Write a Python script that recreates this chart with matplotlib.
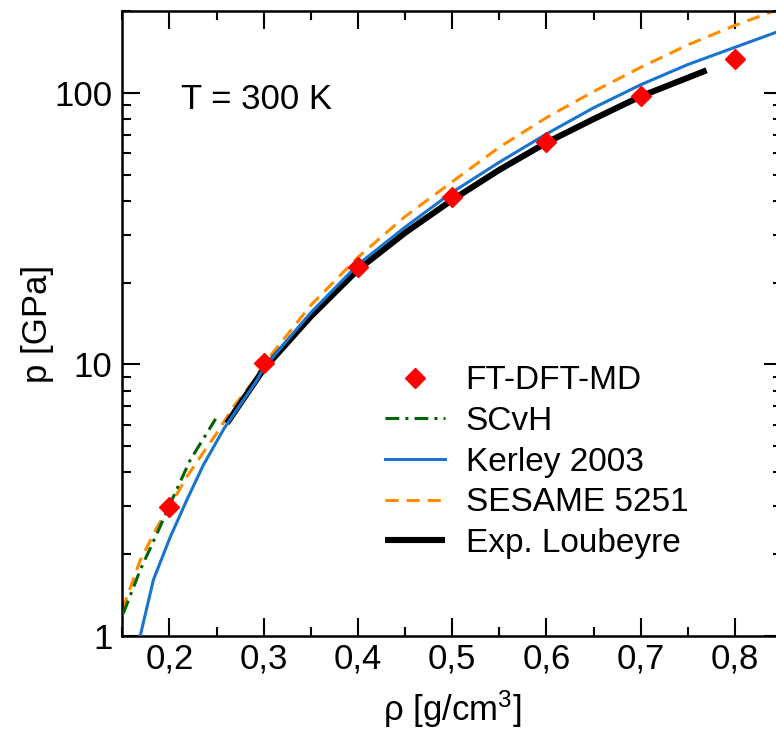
import matplotlib
matplotlib.use("Agg")
import matplotlib.pyplot as plt
from matplotlib import font_manager
from matplotlib.ticker import FixedLocator, MultipleLocator, NullFormatter, FuncFormatter

names = {f.name for f in font_manager.fontManager.ttflist}
FONT = "Liberation Sans Narrow" if "Liberation Sans Narrow" in names else "Liberation Sans"
plt.rcParams["font.family"] = [FONT, "DejaVu Sans"]
plt.rcParams["mathtext.fontset"] = "custom"
plt.rcParams["mathtext.rm"] = FONT
plt.rcParams["mathtext.default"] = "regular"

# ---------------- data ----------------
dft_rho = [0.2, 0.3, 0.4, 0.5, 0.6, 0.7, 0.8]
dft_p = [2.98, 10.1, 22.8, 41.3, 65.8, 97.1, 133.7]

scvh_rho = [0.151, 0.169, 0.187, 0.201, 0.222, 0.249]
scvh_p = [1.21, 1.75, 2.39, 3.08, 4.44, 6.3]

kerley_rho = [0.169, 0.183, 0.201, 0.2185, 0.236, 0.258, 0.293, 0.3, 0.35, 0.4,
              0.45, 0.5, 0.55, 0.6, 0.65, 0.7, 0.75, 0.8, 0.85]
kerley_p = [1.0, 1.61, 2.32, 3.17, 4.26, 5.81, 8.75, 9.7, 15.5, 23.3,
            32.0, 43.0, 55.5, 70.5, 88.0, 107.0, 127.0, 147.0, 170.0]

sesame_rho = [0.15, 0.169, 0.187, 0.2, 0.2185, 0.24, 0.25, 0.268, 0.29, 0.3,
              0.35, 0.4, 0.45, 0.5, 0.55, 0.6, 0.65, 0.7, 0.75, 0.8, 0.85]
sesame_p = [1.25, 1.90, 2.52, 2.98, 3.86, 4.97, 5.57, 6.98, 8.75, 10.0,
            16.5, 24.8, 35.0, 47.0, 63.0, 81.0, 101.0, 124.0, 150.0, 177.0, 205.0]

loub_rho = [0.261, 0.3, 0.35, 0.4, 0.45, 0.5, 0.55, 0.6, 0.65, 0.7, 0.77]
loub_p = [6.07, 9.6, 15.0, 22.3, 30.5, 40.3, 52.0, 65.5, 80.0, 97.0, 121.0]

labels = ["FT-DFT-MD", "SCvH", "Kerley 2003", "SESAME 5251", "Exp. Loubeyre"]
x_ticks = [0.2, 0.3, 0.4, 0.5, 0.6, 0.7, 0.8]
y_ticks = [1, 10, 100]

# ---------------- figure ----------------
fig = plt.figure(figsize=(7.76, 7.40), dpi=100)
ax = fig.add_axes([122.3 / 776, 104 / 740, 659.7 / 776, 625 / 740])

h_sesame, = ax.plot(sesame_rho, sesame_p, color="#ff8c00", lw=2.2,
                    linestyle=(0, (4.3, 2.6)), label=labels[3], zorder=2)
h_kerley, = ax.plot(kerley_rho, kerley_p, color="#1874cd", lw=2.2,
                    label=labels[2], zorder=3)
h_scvh, = ax.plot(scvh_rho, scvh_p, color="#006400", lw=2.2,
                  linestyle=(0, (4.5, 2.0, 1.0, 2.0)), label=labels[1], zorder=3)
h_loub, = ax.plot(loub_rho, loub_p, color="black", lw=4.4,
                  solid_capstyle="butt", label=labels[4], zorder=2.5)
h_dft, = ax.plot(dft_rho, dft_p, linestyle="none", marker="D", ms=10,
                 color="#ff0000", mec="#ff0000", label=labels[0], zorder=4)

ax.set_yscale("log")
ax.set_xlim(0.15, 0.85)
ax.set_ylim(1, 200)

ax.xaxis.set_major_locator(FixedLocator(x_ticks))
ax.xaxis.set_minor_locator(MultipleLocator(0.05))
ax.xaxis.set_major_formatter(FuncFormatter(lambda v, p: f"{v:.1f}".replace(".", ",")))
ax.yaxis.set_major_locator(FixedLocator(y_ticks))
ax.yaxis.set_major_formatter(FuncFormatter(lambda v, p: f"{int(round(v))}"))
ax.yaxis.set_minor_formatter(NullFormatter())

ax.tick_params(which="both", direction="in", top=True, right=True, width=1.5,
               labelsize=25, colors="black")
ax.tick_params(which="major", length=13)
ax.tick_params(which="minor", length=6.5)
ax.tick_params(axis="x", which="major", pad=5)
ax.tick_params(axis="y", which="major", pad=7)
for s in ax.spines.values():
    s.set_linewidth(1.8)

ax.set_xlabel(r"ρ [g/cm$^{3}$]", fontsize=25, labelpad=9)
ax.set_ylabel("p [GPa]", fontsize=25)
ax.yaxis.set_label_coords(-0.104, 0.5)

ax.text(0.089, 0.843, "T = 300 K", transform=ax.transAxes, fontsize=25,
        ha="left", va="baseline")

leg = ax.legend(handles=[h_dft, h_scvh, h_kerley, h_sesame, h_loub],
                loc="upper left", bbox_to_anchor=(0.398, 0.433), frameon=False,
                fontsize=24, numpoints=1, handlelength=1.8, handletextpad=0.62,
                labelspacing=0.29, borderpad=0, borderaxespad=0)

fig.savefig("out.png", dpi=100)
